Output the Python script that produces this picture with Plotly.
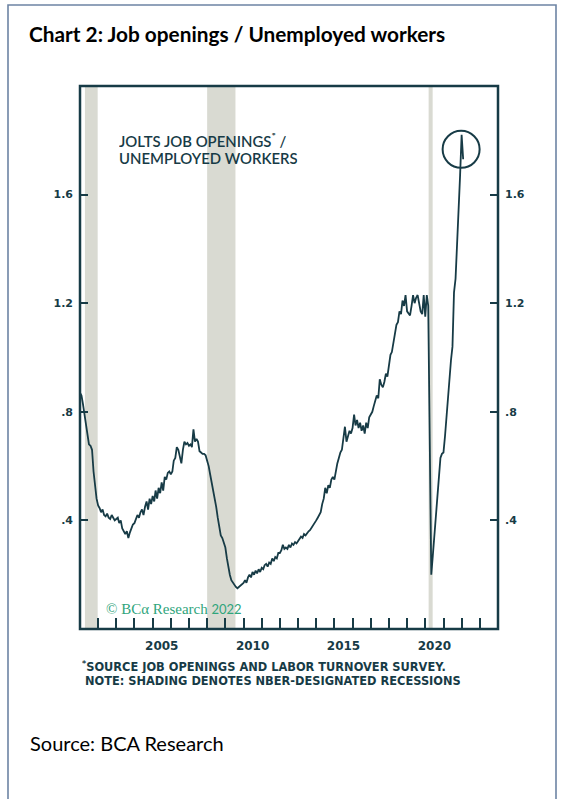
import pandas as pd
import plotly.graph_objects as go

# JOLTS job openings / unemployed workers, monthly (Dec 2000 - Jan 2022)
ratio_2000 = [0.87]
ratio_2001 = [0.86, 0.83, 0.79, 0.75, 0.71, 0.68, 0.675, 0.66, 0.58, 0.52, 0.48, 0.455]
ratio_2002 = [0.445, 0.43, 0.44, 0.42, 0.415, 0.425, 0.41, 0.405, 0.42, 0.41, 0.40, 0.405]
ratio_2003 = [0.41, 0.39, 0.40, 0.37, 0.36, 0.35, 0.36, 0.335, 0.355, 0.37, 0.385, 0.39]
ratio_2004 = [0.41, 0.42, 0.41, 0.43, 0.44, 0.42, 0.45, 0.47, 0.44, 0.48, 0.46, 0.49]
ratio_2005 = [0.47, 0.51, 0.48, 0.52, 0.50, 0.54, 0.51, 0.56, 0.55, 0.575, 0.58, 0.57]
ratio_2006 = [0.58, 0.62, 0.63, 0.67, 0.66, 0.64, 0.61, 0.66, 0.69, 0.68, 0.685, 0.675]
ratio_2007 = [0.68, 0.67, 0.735, 0.69, 0.70, 0.69, 0.655, 0.65, 0.645, 0.645, 0.64, 0.62]
ratio_2008 = [0.60, 0.57, 0.54, 0.52, 0.49, 0.45, 0.41, 0.37, 0.345, 0.335, 0.32, 0.30]
ratio_2009 = [0.26, 0.225, 0.20, 0.18, 0.17, 0.16, 0.155, 0.15, 0.155, 0.16, 0.165, 0.17]
ratio_2010 = [0.18, 0.17, 0.19, 0.20, 0.19, 0.21, 0.20, 0.215, 0.205, 0.22, 0.21, 0.225]
ratio_2011 = [0.22, 0.235, 0.24, 0.23, 0.245, 0.24, 0.26, 0.25, 0.265, 0.26, 0.28, 0.28]
ratio_2012 = [0.29, 0.31, 0.295, 0.30, 0.295, 0.31, 0.30, 0.315, 0.31, 0.32, 0.315, 0.325]
ratio_2013 = [0.33, 0.34, 0.335, 0.35, 0.345, 0.355, 0.36, 0.365, 0.375, 0.385, 0.39, 0.40]
ratio_2014 = [0.41, 0.42, 0.43, 0.46, 0.48, 0.52, 0.50, 0.53, 0.52, 0.55, 0.56, 0.55]
ratio_2015 = [0.59, 0.61, 0.63, 0.65, 0.66, 0.70, 0.745, 0.69, 0.71, 0.73, 0.72, 0.74]
ratio_2016 = [0.79, 0.75, 0.77, 0.74, 0.76, 0.73, 0.75, 0.72, 0.76, 0.74, 0.78, 0.79]
ratio_2017 = [0.80, 0.82, 0.84, 0.86, 0.85, 0.92, 0.90, 0.89, 0.91, 0.94, 0.93, 0.97]
ratio_2018 = [1.01, 1.02, 1.05, 1.08, 1.12, 1.13, 1.17, 1.16, 1.21, 1.19, 1.23, 1.17]
ratio_2019 = [1.16, 1.155, 1.19, 1.23, 1.20, 1.22, 1.23, 1.20, 1.17, 1.16, 1.23, 1.15]
ratio_2020 = [1.23, 1.19, 0.72, 0.20, 0.27, 0.34, 0.42, 0.49, 0.56, 0.63, 0.645, 0.65]
ratio_2021 = [0.71, 0.78, 0.86, 0.93, 0.99, 1.04, 1.24, 1.29, 1.41, 1.51, 1.67, 1.82]
ratio_2022 = [1.73]

ratio = (ratio_2000 + ratio_2001 + ratio_2002 + ratio_2003 + ratio_2004 + ratio_2005
         + ratio_2006 + ratio_2007 + ratio_2008 + ratio_2009 + ratio_2010 + ratio_2011
         + ratio_2012 + ratio_2013 + ratio_2014 + ratio_2015 + ratio_2016 + ratio_2017
         + ratio_2018 + ratio_2019 + ratio_2020 + ratio_2021 + ratio_2022)
dates = pd.date_range("2000-12-31", periods=len(ratio), freq="ME")

# NBER recessions (shaded)
recession_starts = ["2001-04-10", "2007-12-31", "2020-03-08"]
recession_ends = ["2001-12-22", "2009-07-22", "2020-05-28"]

# axes
y_tick_values = [0.4, 0.8, 1.2, 1.6]
y_tick_labels = [".4", ".8", "1.2", "1.6"]
x_label_years = [2005, 2010, 2015, 2020]
x_tick_years = list(range(2002, 2024))

INK = "#173b46"
SHADE = "#d9dad2"
GREEN = "#2fa57c"
BORDER = "#6d84a4"

W, H = 562, 799
L, R, T, B = 80, 64, 86, 170
PW, PH = W - L - R, H - T - B


def px(x):
    return (x - L) / PW


def py(y):
    return (H - B - y) / PH


fig = go.Figure()
fig.add_trace(go.Scatter(x=dates, y=ratio, mode="lines",
                         line=dict(color=INK, width=1.8), hoverinfo="skip",
                         showlegend=False))
fig.add_trace(go.Scatter(x=dates, y=ratio, mode="lines", yaxis="y2",
                         line=dict(color=INK, width=0), opacity=0,
                         hoverinfo="skip", showlegend=False))

for s, e in zip(recession_starts, recession_ends):
    fig.add_shape(type="rect", xref="x", yref="paper", x0=s, x1=e, y0=0, y1=1,
                  fillcolor=SHADE, line=dict(width=0), layer="below")

# plot frame
fig.add_shape(type="rect", xref="paper", yref="paper", x0=0, x1=1, y0=0, y1=1,
              line=dict(color=INK, width=2.5), layer="above")

# circle around the latest peak
peak_i = max(range(len(ratio)), key=lambda i: ratio[i])
fig.add_shape(type="circle", xref="x", yref="y", xsizemode="pixel", ysizemode="pixel",
              xanchor=dates[peak_i], yanchor=ratio[peak_i],
              x0=-19, x1=18, y0=-33, y1=4, line=dict(color=INK, width=2))

# outer page border
fig.add_shape(type="rect", xref="paper", yref="paper", x0=px(8), x1=px(556),
              y0=py(830), y1=py(5), line=dict(color=BORDER, width=1.6), layer="above")

ytick_font = dict(family="DejaVu Sans", size=11, color=INK, weight="bold")
yaxis_common = dict(range=[0, 2.0], tickmode="array", tickvals=y_tick_values,
                    ticktext=y_tick_labels, ticks="inside", ticklen=8, tickwidth=2,
                    tickcolor=INK, showgrid=False, zeroline=False, showline=False,
                    tickfont=ytick_font, ticklabelstandoff=6, fixedrange=True)

fig.update_layout(
    width=W, height=H,
    margin=dict(l=L, r=R, t=T, b=B),
    paper_bgcolor="white", plot_bgcolor="white",
    title=dict(text="<b>Chart 2: Job openings / Unemployed workers</b>",
               xref="container", yref="container", x=29 / W, xanchor="left",
               y=1 - 35 / H, yanchor="middle",
               font=dict(family="Lato", size=20.8, color="#000000")),
    xaxis=dict(type="date", range=["2001-01-01", "2024-01-01"], tickmode="array",
               tickvals=[f"{y}-07-02" for y in x_label_years],
               ticktext=[str(y) for y in x_label_years],
               ticks="inside", ticklen=0, showgrid=False, zeroline=False,
               showline=False, ticklabelstandoff=8,
               tickfont=dict(family="DejaVu Sans", size=12, color=INK, weight="bold"),
               minor=dict(tickmode="array", tickvals=[f"{y}-01-01" for y in x_tick_years],
                          ticks="inside", ticklen=11, tickwidth=2, tickcolor=INK,
                          showgrid=False),
               fixedrange=True),
    yaxis=dict(side="left", **yaxis_common),
    yaxis2=dict(side="right", overlaying="y", **yaxis_common),
)

label_font = dict(family="Lato", size=14.9, color=INK, weight=600)
note_font = dict(family="DejaVu Sans", size=11.4, color=INK, weight="bold")
annotations = [
    dict(text="JOLTS JOB OPENINGS<sup>*</sup> /", x=px(117), y=py(141),
         font=label_font, height=15),
    dict(text="UNEMPLOYED WORKERS", x=px(117), y=py(157), font=label_font, height=15),
    dict(text="© BCα Research <span style='font-family:Lato;font-size:13px'>2022</span>",
         x=px(104), y=py(609), font=dict(family="Liberation Serif", size=15, color=GREEN)),
    dict(text="<sup>*</sup>SOURCE JOB OPENINGS AND LABOR TURNOVER SURVEY.",
         x=px(80), y=py(666), font=note_font, height=13),
    dict(text="NOTE: SHADING DENOTES NBER-DESIGNATED RECESSIONS",
         x=px(83), y=py(680), font=note_font, height=13),
    dict(text="Source: BCA Research", x=px(28), y=py(743),
         font=dict(family="Lato", size=20, color="#000000")),
]
for a in annotations:
    fig.add_annotation(xref="paper", yref="paper", xanchor="left", yanchor="middle",
                       showarrow=False, align="left", **a)

fig.write_html("out.html")
